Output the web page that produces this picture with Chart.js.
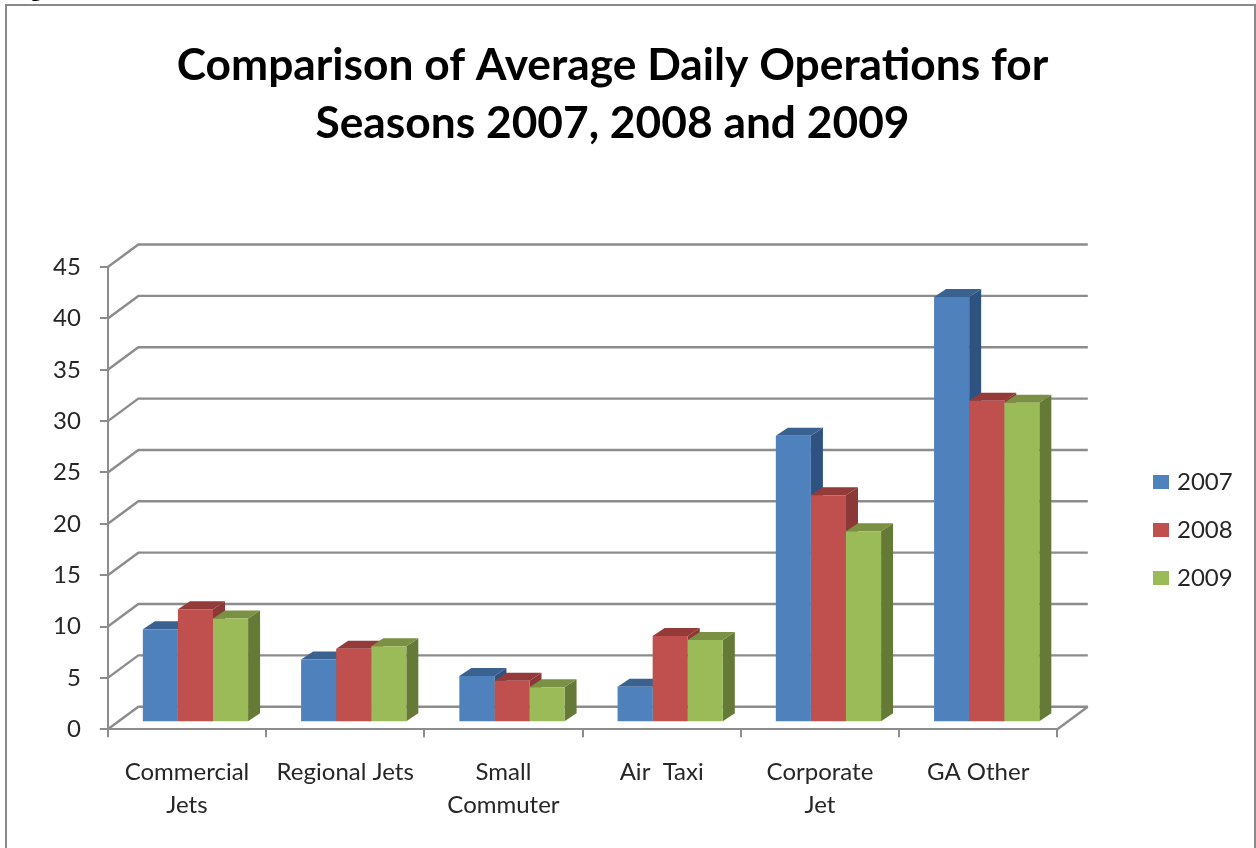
<!DOCTYPE html>
<html><head><meta charset="utf-8">
<style>
html,body{margin:0;padding:0;background:#fff;overflow:hidden}
#wrap{position:absolute;left:0;top:0;width:1256px;height:848px}
canvas{display:block}
</style>
<script src="https://cdn.jsdelivr.net/npm/chart.js@4/dist/chart.umd.min.js"></script>
</head><body><div id="wrap"><canvas id="c" width="1256" height="848"></canvas></div>
<script>
const categories=[["Commercial","Jets"],"Regional Jets",["Small","Commuter"],"Air  Taxi",["Corporate","Jet"],"GA Other"];
const series2007=[9.05,6.1,4.5,3.45,27.9,41.4];
const series2008=[11,7.15,4.05,8.4,22.1,31.3];
const series2009=[10.1,7.4,3.4,8,18.6,31.1];
const titleLines=["Comparison of Average Daily Operations for","Seasons 2007, 2008 and 2009"];
const yTicks=[0,5,10,15,20,25,30,35,40,45];
const FONT='Lato, sans-serif';
const palette=[
 {front:'#4f81bd',side:'#2f5380',top:'#3a6290'},
 {front:'#c0504d',side:'#8c3836',top:'#943a38'},
 {front:'#9bbb59',side:'#667a38',top:'#7a9143'}];
const WALL={dx:30.5,dy:-22.5}, BAR={dx:8.5,dy:-7}, DEPTH={dx:12,dy:-8};
const LEGEND_PAD=24;
const threeD={
 id:'threeD',
 afterLayout(ch){
  const lg=ch.legend,h=lg.bottom-lg.top;
  const w=lg.right-lg.left;
  lg.left=1157-LEGEND_PAD;lg.right=lg.left+w;
  lg.top=530-h/2;lg.bottom=lg.top+h;
  ch.titleBlock.left+=12;ch.titleBlock.right+=12;
 },
 beforeDraw(ch){
  const {ctx,chartArea:a,scales:{y}}=ch;
  ctx.save();
  ctx.fillStyle='#fff';ctx.fillRect(0,0,ch.width,ch.height);
  ctx.strokeStyle='#8a8a8a';ctx.lineWidth=2;
  ctx.strokeRect(6,5,1249,860);
  ctx.fillStyle='#000';ctx.font='bold 22px "Liberation Serif"';ctx.textBaseline='alphabetic';ctx.textAlign='left';
  ctx.fillText('Figure',11,-4);
  ctx.strokeStyle='#8c8c8c';ctx.lineWidth=2.4;
  yTicks.forEach(t=>{
   const py=y.getPixelForValue(t);
   ctx.beginPath();ctx.moveTo(a.left,py);ctx.lineTo(a.left+WALL.dx,py+WALL.dy);ctx.lineTo(a.right+WALL.dx,py+WALL.dy);ctx.stroke();
  });
  const by=y.getPixelForValue(0);
  ctx.beginPath();ctx.moveTo(a.right,by);ctx.lineTo(a.right+WALL.dx,by+WALL.dy);ctx.stroke();
  ctx.restore();
 },
 beforeDatasetsDraw(ch){
  const ctx=ch.ctx;
  ctx.save();ctx.translate(BAR.dx,BAR.dy);
  ch.data.datasets.forEach((d,i)=>{
   const c=palette[i];
   ch.getDatasetMeta(i).data.forEach(b=>{
    const l=b.x-b.width/2,r=b.x+b.width/2,t=b.y,bt=b.base;
    ctx.fillStyle=c.side;ctx.beginPath();ctx.moveTo(r,t);ctx.lineTo(r+DEPTH.dx,t+DEPTH.dy);ctx.lineTo(r+DEPTH.dx,bt+DEPTH.dy);ctx.lineTo(r,bt);ctx.closePath();ctx.fill();
    ctx.fillStyle=c.top;ctx.beginPath();ctx.moveTo(l,t);ctx.lineTo(l+DEPTH.dx,t+DEPTH.dy);ctx.lineTo(r+DEPTH.dx,t+DEPTH.dy);ctx.lineTo(r,t);ctx.closePath();ctx.fill();
   });
  });
  ctx.restore();
 },
 beforeDatasetDraw(ch){ch.ctx.save();ch.ctx.translate(BAR.dx,BAR.dy);},
 afterDatasetDraw(ch){ch.ctx.restore();}
};
const mk=(label,data,i)=>({label,data,backgroundColor:palette[i].front,borderWidth:0,clip:false,categoryPercentage:0.665,barPercentage:1});
new Chart(document.getElementById('c'),{
 type:'bar',
 data:{labels:categories,datasets:[mk('2007',series2007,0),mk('2008',series2008,1),mk('2009',series2009,2)]},
 plugins:[threeD],
 options:{
  responsive:false,animation:false,devicePixelRatio:1,
  layout:{padding:{left:34,top:37,right:89,bottom:7.5}},
  scales:{
   x:{grid:{drawOnChartArea:false,color:'#8c8c8c',lineWidth:2,tickLength:8,offset:true},border:{color:'#8c8c8c',width:2},
      ticks:{color:'#262626',font:{family:FONT,size:24,lineHeight:1.36},maxRotation:0,autoSkip:false,padding:19}},
   y:{min:0,max:45,grid:{drawOnChartArea:false,color:'#8c8c8c',lineWidth:2,tickLength:8},border:{color:'#8c8c8c',width:2},
      ticks:{color:'#262626',font:{family:FONT,size:24},stepSize:5,padding:19}}
  },
  plugins:{
   title:{display:true,text:titleLines,color:'#000',font:{family:FONT,size:44.3,weight:'bold',lineHeight:1.31},padding:{top:0,bottom:114}},
   legend:{position:'right',labels:{color:'#262626',font:{family:FONT,size:24},boxWidth:8,boxHeight:6,padding:LEGEND_PAD,
     generateLabels(ch){return Chart.defaults.plugins.legend.labels.generateLabels(ch).map(l=>({...l,strokeStyle:l.fillStyle,lineWidth:8}));}}},
   tooltip:{enabled:false}
  }
 }
});
</script></body></html>
